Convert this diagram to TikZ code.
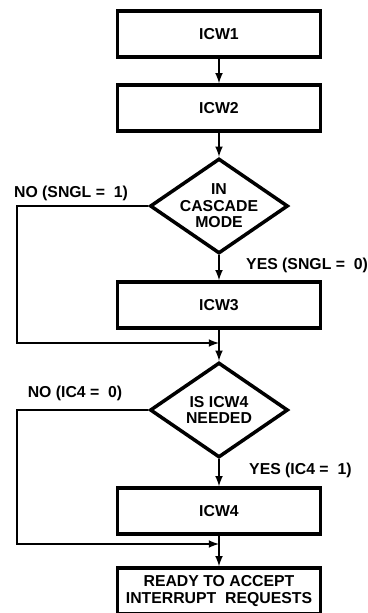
\documentclass[tikz,border=0pt]{standalone}
\usepackage{fontspec}
\setmainfont{Liberation Sans}
\usetikzlibrary{arrows,positioning,shapes.geometric}

\begin{document}
\begin{tikzpicture}[x=0.02cm,y=-0.02cm,>=latex,
  every node/.style={font=\fontsize{9}{9.4}\bfseries\selectfont},
  stepbox/.style={draw,line width=2pt,minimum width=4.06cm,minimum height=0.92cm,align=center},
  decision/.style={draw,diamond,aspect=1.46,line width=2pt,minimum width=2.76cm,minimum height=1.9cm,align=center,inner sep=-2.5pt},
  flow/.style={->,line width=1pt}]

\useasboundingbox (0,0) rectangle (368,613);

\def\cx{219}   % centre line of the chart
\def\lx{17}    % left bypass line

% the steps
\node[stepbox] (icw1) at (\cx,34) {ICW1};
\node[stepbox] (icw2) at (\cx,108) {ICW2};
\node[decision] (cascade) at (\cx,206) {IN\\CASCADE\\MODE};
\node[stepbox] (icw3) at (\cx,305) {ICW3};
\node[decision] (needed) at (\cx,410) {IS ICW4\\NEEDED};
\node[stepbox] (icw4) at (\cx,511) {ICW4};
\node[stepbox,font=\fontsize{9}{10}\bfseries\selectfont] (ready) at (\cx,591) {READY TO ACCEPT\\INTERRUPT\ \ REQUESTS};

% branch labels
\node (no1)  at (71,193) {NO (SNGL =\ \ 1)};
\node[anchor=west] (yes1) at (240,265) {YES (SNGL =\ \ 0)};
\node (no2)  at (75,393) {NO (IC4 =\ \ 0)};
\node[anchor=west] (yes2) at (243,470) {YES (IC4 =\ \ 1)};

% merge points
\coordinate (m1) at (\cx,343);
\coordinate (m2) at (\cx,544);

\draw[flow] (icw1) -- (icw2);
\draw[flow] (icw2) -- (cascade);
\draw[flow] (cascade) -- (icw3);
\draw[line width=1pt] (icw3) -- (m1);
\draw[flow] (m1) -- (needed);
\draw[flow] (cascade.west) -- (\lx,206) |- (m1);
\draw[flow] (needed) -- (icw4);
\draw[line width=1pt] (icw4) -- (m2);
\draw[flow] (m2) -- (ready);
\draw[flow] (needed.west) -- (\lx,410) |- (m2);

\end{tikzpicture}
\end{document}
